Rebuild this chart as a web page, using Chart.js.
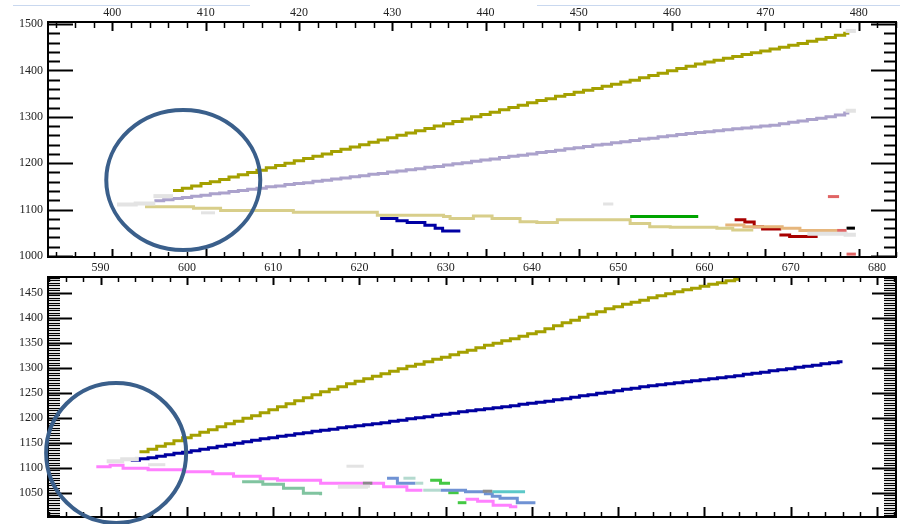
<!DOCTYPE html>
<html>
<head>
<meta charset="utf-8">
<script src="https://cdn.jsdelivr.net/npm/chart.js@4/dist/chart.umd.min.js"></script>
<style>
  body { margin: 0; background: #fff; }
  canvas { display: block; }
</style>
</head>
<body>
<canvas id="topPanel" width="900" height="262"></canvas>
<canvas id="bottomPanel" width="900" height="262"></canvas>
<script>
// axis ranges and tick labels
const topXRange = [393.1, 484.0];
const topYRange = [997.8, 1504.3];
const bottomXRange = [583.9, 682.2];
const bottomYRange = [1001.4, 1481.4];
const topXTicks = [400, 410, 420, 430, 440, 450, 460, 470, 480];
const topYTicks = [1000, 1100, 1200, 1300, 1400, 1500];
const midXTicks = [590, 600, 610, 620, 630, 640, 650, 660, 670, 680];
const bottomYTicks = [1050, 1100, 1150, 1200, 1250, 1300, 1350, 1400, 1450];

// top panel traces  [x, y] (step starts, last point = end)
const topOlive = [[406.5,1141],[407.5,1146],[408.5,1151],[409.5,1156],[410.5,1160],[411.5,1165],[412.5,1170],[413.5,1175],[414.5,1180],[415.5,1185],[416.5,1190],[417.5,1195],[418.5,1200],[419.5,1205],[420.5,1210],[421.5,1215],[422.5,1220],[423.5,1225],[424.5,1230],[425.5,1235],[426.5,1240],[427.5,1245],[428.5,1250],[429.5,1255],[430.5,1260],[431.5,1265],[432.5,1270],[433.5,1275],[434.5,1280],[435.5,1285],[436.5,1290],[437.5,1295],[438.5,1300],[439.5,1305],[440.5,1310],[441.5,1315],[442.5,1320],[443.5,1325],[444.5,1330],[445.5,1335],[446.5,1339],[447.5,1344],[448.5,1348],[449.5,1353],[450.5,1357],[451.5,1361],[452.5,1366],[453.5,1370],[454.5,1375],[455.5,1379],[456.5,1384],[457.5,1389],[458.5,1394],[459.5,1399],[460.5,1404],[461.5,1409],[462.5,1414],[463.5,1418],[464.5,1422],[465.5,1426],[466.5,1430],[467.5,1434],[468.5,1438],[469.5,1442],[470.5,1446],[471.5,1450],[472.5,1454],[473.5,1458],[474.5,1463],[475.5,1467],[476.5,1471],[477.5,1476],[478.5,1480],[479,1480]];
const topLavender = [[404.5,1119],[405.5,1121],[406.5,1124],[407.5,1126],[408.5,1129],[409.5,1131],[410.5,1134],[411.5,1136],[412.5,1139],[413.5,1141],[414.5,1144],[415.5,1146],[416.5,1149],[417.5,1151],[418.5,1154],[419.5,1156],[420.5,1158],[421.5,1161],[422.5,1163],[423.5,1166],[424.5,1168],[425.5,1171],[426.5,1173],[427.5,1176],[428.5,1178],[429.5,1181],[430.5,1183],[431.5,1186],[432.5,1188],[433.5,1191],[434.5,1193],[435.5,1196],[436.5,1199],[437.5,1201],[438.5,1204],[439.5,1207],[440.5,1209],[441.5,1212],[442.5,1215],[443.5,1217],[444.5,1220],[445.5,1223],[446.5,1225],[447.5,1228],[448.5,1231],[449.5,1233],[450.5,1236],[451.5,1239],[452.5,1241],[453.5,1244],[454.5,1246],[455.5,1249],[456.5,1252],[457.5,1254],[458.5,1257],[459.5,1259],[460.5,1262],[461.5,1264],[462.5,1266],[463.5,1268],[464.5,1270],[465.5,1272],[466.5,1274],[467.5,1276],[468.5,1278],[469.5,1280],[470.5,1282],[471.5,1285],[472.5,1288],[473.5,1291],[474.5,1294],[475.5,1297],[476.5,1300],[477.5,1304],[478.5,1308],[479,1308]];
const topTan = [[403.5,1106],[408.7,1103],[411.6,1098],[419.4,1094],[428.4,1088],[435.5,1085],[436.2,1081],[438.7,1086],[440.7,1081],[443.7,1074],[445.5,1072],[447.7,1078],[455.5,1070],[457.6,1063],[459.8,1062],[464.8,1060],[466.5,1056],[468.7,1056]];
const topBlue = [[428.7,1081],[430.5,1076],[431.6,1072],[433.5,1066],[434.6,1060],[435.4,1054],[437.3,1054]];
const topGreen = [[455.5,1085],[462.8,1085]];
const topRedA = [[466.7,1078],[467.8,1073],[468.8,1063],[469.7,1058],[471.7,1058]];
const topRedB = [[471.5,1045],[472.6,1042],[475.6,1042]];
const topOrange = [[465.7,1067],[467.7,1063],[471.8,1060],[473.7,1055],[477.7,1055]];
const topSalmonA = [[476.7,1128],[477.9,1128]];
const topSalmonB = [[477.6,1055],[478.7,1055]];
const topSalmonC = [[478.7,1004],[479.7,1004]];
const topBlack = [[478.7,1060],[479.6,1060]];
const topGhostA = [[400.5,1111],[402.5,1113],[404.6,1113]];
const topGhostB = [[404.4,1129],[406.5,1129]];
const topGhostC = [[409.5,1093],[411,1093]];
const topGhostD = [[452.6,1112],[453.7,1112]];
const topGhostE = [[478.6,1485],[479.7,1485]];
const topGhostF = [[478.6,1313],[479.7,1313]];
const topGhostG = [[474.5,1048],[476.5,1048],[478.6,1046],[479.7,1046]];

// bottom panel traces
const botOlive = [[594.5,1132],[595.5,1137],[596.5,1143],[597.5,1148],[598.5,1154],[599.5,1160],[600.5,1165],[601.5,1171],[602.5,1176],[603.5,1182],[604.5,1188],[605.5,1193],[606.5,1199],[607.5,1204],[608.5,1210],[609.5,1216],[610.5,1222],[611.5,1228],[612.5,1234],[613.5,1240],[614.5,1246],[615.5,1252],[616.5,1257],[617.5,1262],[618.5,1268],[619.5,1273],[620.5,1278],[621.5,1283],[622.5,1288],[623.5,1293],[624.5,1298],[625.5,1303],[626.5,1307],[627.5,1312],[628.5,1317],[629.5,1321],[630.5,1326],[631.5,1331],[632.5,1335],[633.5,1340],[634.5,1345],[635.5,1349],[636.5,1354],[637.5,1358],[638.5,1363],[639.5,1368],[640.5,1372],[641.5,1378],[642.5,1384],[643.5,1390],[644.5,1395],[645.5,1401],[646.5,1407],[647.5,1412],[648.5,1418],[649.5,1422],[650.5,1427],[651.5,1431],[652.5,1435],[653.5,1440],[654.5,1444],[655.5,1448],[656.5,1452],[657.5,1456],[658.5,1459],[659.5,1463],[660.5,1467],[661.5,1470],[662.5,1474],[663.5,1477],[664,1477]];
const botBlue = [[593.5,1115],[594.5,1118],[595.5,1120],[596.5,1123],[597.5,1126],[598.5,1129],[599.5,1131],[600.5,1134],[601.5,1137],[602.5,1140],[603.5,1143],[604.5,1146],[605.5,1149],[606.5,1152],[607.5,1155],[608.5,1158],[609.5,1160],[610.5,1163],[611.5,1165],[612.5,1168],[613.5,1170],[614.5,1173],[615.5,1175],[616.5,1177],[617.5,1180],[618.5,1182],[619.5,1184],[620.5,1186],[621.5,1188],[622.5,1190],[623.5,1193],[624.5,1195],[625.5,1198],[626.5,1200],[627.5,1202],[628.5,1205],[629.5,1207],[630.5,1209],[631.5,1212],[632.5,1214],[633.5,1216],[634.5,1218],[635.5,1220],[636.5,1222],[637.5,1224],[638.5,1227],[639.5,1229],[640.5,1231],[641.5,1233],[642.5,1236],[643.5,1238],[644.5,1241],[645.5,1244],[646.5,1246],[647.5,1249],[648.5,1251],[649.5,1254],[650.5,1257],[651.5,1259],[652.5,1262],[653.5,1264],[654.5,1266],[655.5,1268],[656.5,1270],[657.5,1272],[658.5,1274],[659.5,1276],[660.5,1278],[661.5,1280],[662.5,1282],[663.5,1284],[664.5,1287],[665.5,1289],[666.5,1291],[667.5,1294],[668.5,1296],[669.5,1298],[670.5,1301],[671.5,1303],[672.5,1305],[673.5,1308],[674.5,1310],[675.5,1312],[676,1312]];
const botPinkA = [[589.5,1102],[591.1,1105],[592.6,1099],[595.5,1096],[599.6,1092],[603,1088],[605.4,1083],[608.5,1078],[610.5,1075],[615.5,1069],[622.8,1062],[625.5,1055],[627.3,1055]];
const botPinkB = [[632.3,1037],[633.7,1033],[635.5,1025],[637.5,1022],[638.3,1022]];
const botAqua = [[606.4,1072],[608.8,1067],[611.2,1059],[613.5,1049],[615.5,1045]];
const botCornA = [[623.2,1079],[624.4,1069],[626.5,1069]];
const botCornB = [[629.4,1055],[632.3,1052],[634.6,1048],[635.4,1043],[636.3,1039],[638.3,1030],[640.4,1030]];
const botTurq = [[635.4,1052],[639.2,1052]];
const botGreenA = [[628.2,1075],[629.4,1069],[630.5,1069]];
const botGreenB = [[630.3,1050],[631.5,1050]];
const botGreenC = [[631.4,1030],[632.4,1030]];
const botPaleA = [[625.1,1079],[626.5,1079]];
const botPaleB = [[626.5,1069],[627.4,1069]];
const botPaleC = [[627.4,1055],[629.4,1055]];
const botGreyA = [[620.4,1069],[621.5,1069]];
const botGreyB = [[634.3,1053],[635.4,1053]];
const botGhostA = [[590.7,1113],[592.5,1117],[594.2,1122]];
const botGhostB = [[595.5,1106],[597.5,1106]];
const botGhostC = [[618.5,1103],[620.5,1103]];
const botGhostD = [[617.5,1062],[621,1060]];

// annotation circles, centre in data units, radius in px
const topCircle = [407.6, 1163.8];
const bottomCircle = [591.8, 1129.4];

function line(data, color, width) {
  return {
    data: data,
    borderColor: color,
    borderWidth: width || 3,
    pointRadius: 0,
    stepped: true,
    fill: false,
    borderCapStyle: 'butt'
  };
}

const inwardTicks = {
  id: 'inwardTicks',
  afterDatasetsDraw(chart, args, opts) {
    const ctx = chart.ctx, a = chart.chartArea;
    ctx.save();
    ctx.strokeStyle = '#000';
    for (const t of opts.axes) {
      const s = chart.scales[t.scale];
      const first = Math.ceil(s.min / t.minor - 1e-6);
      const last = Math.floor(s.max / t.minor + 1e-6);
      const every = Math.round(t.major / t.minor);
      for (let n = first; n <= last; n++) {
        const big = n % every === 0;
        const len = big ? t.majorLen : t.minorLen;
        const p = Math.round(s.getPixelForValue(n * t.minor)) + 0.5;
        ctx.lineWidth = big ? 2 : t.width;
        ctx.beginPath();
        if (t.side === 'left') { ctx.moveTo(a.left, p); ctx.lineTo(a.left + len, p); }
        if (t.side === 'right') { ctx.moveTo(a.right, p); ctx.lineTo(a.right - len, p); }
        if (t.side === 'top') { ctx.moveTo(p, a.top); ctx.lineTo(p, a.top + len); }
        if (t.side === 'bottom') { ctx.moveTo(p, a.bottom); ctx.lineTo(p, a.bottom - len); }
        ctx.stroke();
      }
    }
    ctx.lineWidth = 2;
    ctx.strokeRect(a.left, a.top, a.right - a.left, a.bottom - a.top);
    ctx.restore();
  }
};

const circles = {
  id: 'circles',
  afterDraw(chart, args, opts) {
    const ctx = chart.ctx;
    ctx.save();
    ctx.strokeStyle = '#3a5f8b';
    ctx.lineWidth = 4;
    for (const c of opts.list) {
      const x = chart.scales.x.getPixelForValue(c.at[0]);
      const y = chart.scales.y.getPixelForValue(c.at[1]);
      ctx.beginPath();
      ctx.ellipse(x, y, c.rx, c.ry, 0, 0, Math.PI * 2);
      ctx.stroke();
    }
    if (opts.rule) {
      ctx.strokeStyle = '#c9d8ef';
      ctx.lineWidth = 1;
      ctx.beginPath();
      ctx.moveTo(13, 5.5); ctx.lineTo(250, 5.5);
      ctx.moveTo(537, 5.5); ctx.lineTo(900, 5.5);
      ctx.stroke();
    }
    ctx.restore();
  }
};

const labelFont = { family: '"Liberation Serif", "DejaVu Serif", serif', size: 12 };
const plain = v => String(v);

function makeScales(xr, yr, xTop, yTicks, topH, bottomH) {
  const fixed = vals => s => { s.ticks = vals.map(v => ({ value: v })); };
  const noPad = s => { s.paddingTop = 0; s.paddingBottom = 0; s.paddingLeft = 0; s.paddingRight = 0; };
  return {
    x: {
      type: 'linear', position: 'bottom', min: xr[0], max: xr[1],
      ticks: { display: false }, grid: { display: false }, border: { display: false },
      afterFit: s => { s.height = bottomH; noPad(s); }
    },
    x2: {
      type: 'linear', position: 'top', min: xr[0], max: xr[1],
      afterBuildTicks: fixed(xTop),
      ticks: { font: labelFont, color: '#222', padding: 2, maxRotation: 0, autoSkip: false, callback: plain },
      grid: { display: false, drawTicks: false }, border: { display: false },
      afterFit: s => { s.height = topH; noPad(s); }
    },
    y: {
      type: 'linear', position: 'left', min: yr[0], max: yr[1],
      afterBuildTicks: fixed(yTicks),
      ticks: { font: labelFont, color: '#222', padding: 5, autoSkip: false, callback: plain },
      grid: { display: false, drawTicks: false }, border: { display: false },
      afterFit: s => { s.width = 48; noPad(s); }
    },
    y2: {
      type: 'linear', position: 'right', min: yr[0], max: yr[1],
      ticks: { display: false }, grid: { display: false }, border: { display: false },
      afterFit: s => { s.width = 4; noPad(s); }
    }
  };
}

const ghost = '#e3e3e3';

new Chart(document.getElementById('topPanel'), {
  type: 'line',
  data: {
    datasets: [
      line(topGhostA, ghost, 4), line(topGhostB, ghost, 4), line(topGhostC, ghost, 3),
      line(topGhostD, ghost, 3), line(topGhostE, ghost, 4), line(topGhostF, ghost, 4), line(topGhostG, ghost, 4),
      line(topTan, '#d8ce8a'),
      line(topLavender, '#aba2cc'),
      line(topOlive, '#a4a000'),
      line(topBlue, '#0000a4'),
      line(topGreen, '#00a400'),
      line(topOrange, '#e6b67c'),
      line(topRedA, '#a80000'),
      line(topRedB, '#a80000'),
      line(topSalmonA, '#e06464'),
      line(topSalmonB, '#e06464'),
      line(topSalmonC, '#e06464'),
      line(topBlack, '#000000')
    ]
  },
  options: {
    responsive: false,
    animation: false,
    layout: { padding: 0, autoPadding: false },
    scales: makeScales(topXRange, topYRange, topXTicks, topYTicks, 22, 5),
    plugins: {
      legend: { display: false },
      tooltip: { enabled: false },
      inwardTicks: { axes: [
        { scale: 'y', side: 'left', minor: 20, major: 100, minorLen: 12, majorLen: 25, width: 2 },
        { scale: 'y', side: 'right', minor: 20, major: 100, minorLen: 12, majorLen: 25, width: 2 },
        { scale: 'x', side: 'top', minor: 2, major: 10, minorLen: 6, majorLen: 9, width: 1.5 },
        { scale: 'x', side: 'bottom', minor: 2, major: 10, minorLen: 5, majorLen: 8, width: 1.5 }
      ] },
      circles: { list: [{ at: topCircle, rx: 77, ry: 70 }], rule: true }
    }
  },
  plugins: [inwardTicks, circles]
});

new Chart(document.getElementById('bottomPanel'), {
  type: 'line',
  data: {
    datasets: [
      line(botGhostA, ghost, 4), line(botGhostB, ghost, 3), line(botGhostC, ghost, 3), line(botGhostD, ghost, 4),
      line(botAqua, '#80c4a0'),
      line(botPaleA, '#b4dacf'), line(botPaleB, '#b4dacf'), line(botPaleC, '#b4dacf'),
      line(botGreyA, '#8a8a8a'), line(botGreyB, '#8a8a8a'),
      line(botPinkA, '#ff80ff'),
      line(botPinkB, '#ff80ff'),
      line(botTurq, '#5cc8c8'),
      line(botCornA, '#6f92d4'),
      line(botCornB, '#6f92d4'),
      line(botGreenA, '#44c844'), line(botGreenB, '#44c844'), line(botGreenC, '#44c844'),
      line(botBlue, '#0000a0'),
      line(botOlive, '#a4a000')
    ]
  },
  options: {
    responsive: false,
    animation: false,
    layout: { padding: 0, autoPadding: false },
    scales: makeScales(bottomXRange, bottomYRange, midXTicks, bottomYTicks, 15, 7),
    plugins: {
      legend: { display: false },
      tooltip: { enabled: false },
      inwardTicks: { axes: [
        { scale: 'y', side: 'left', minor: 5, major: 50, minorLen: 12, majorLen: 24, width: 1.2 },
        { scale: 'y', side: 'right', minor: 5, major: 50, minorLen: 12, majorLen: 24, width: 1.2 },
        { scale: 'x', side: 'top', minor: 2, major: 10, minorLen: 5, majorLen: 8, width: 1.5 },
        { scale: 'x', side: 'bottom', minor: 2, major: 10, minorLen: 5, majorLen: 10, width: 1.5 }
      ] },
      circles: { list: [{ at: bottomCircle, rx: 70, ry: 70 }], rule: false }
    }
  },
  plugins: [inwardTicks, circles]
});
</script>
</body>
</html>
